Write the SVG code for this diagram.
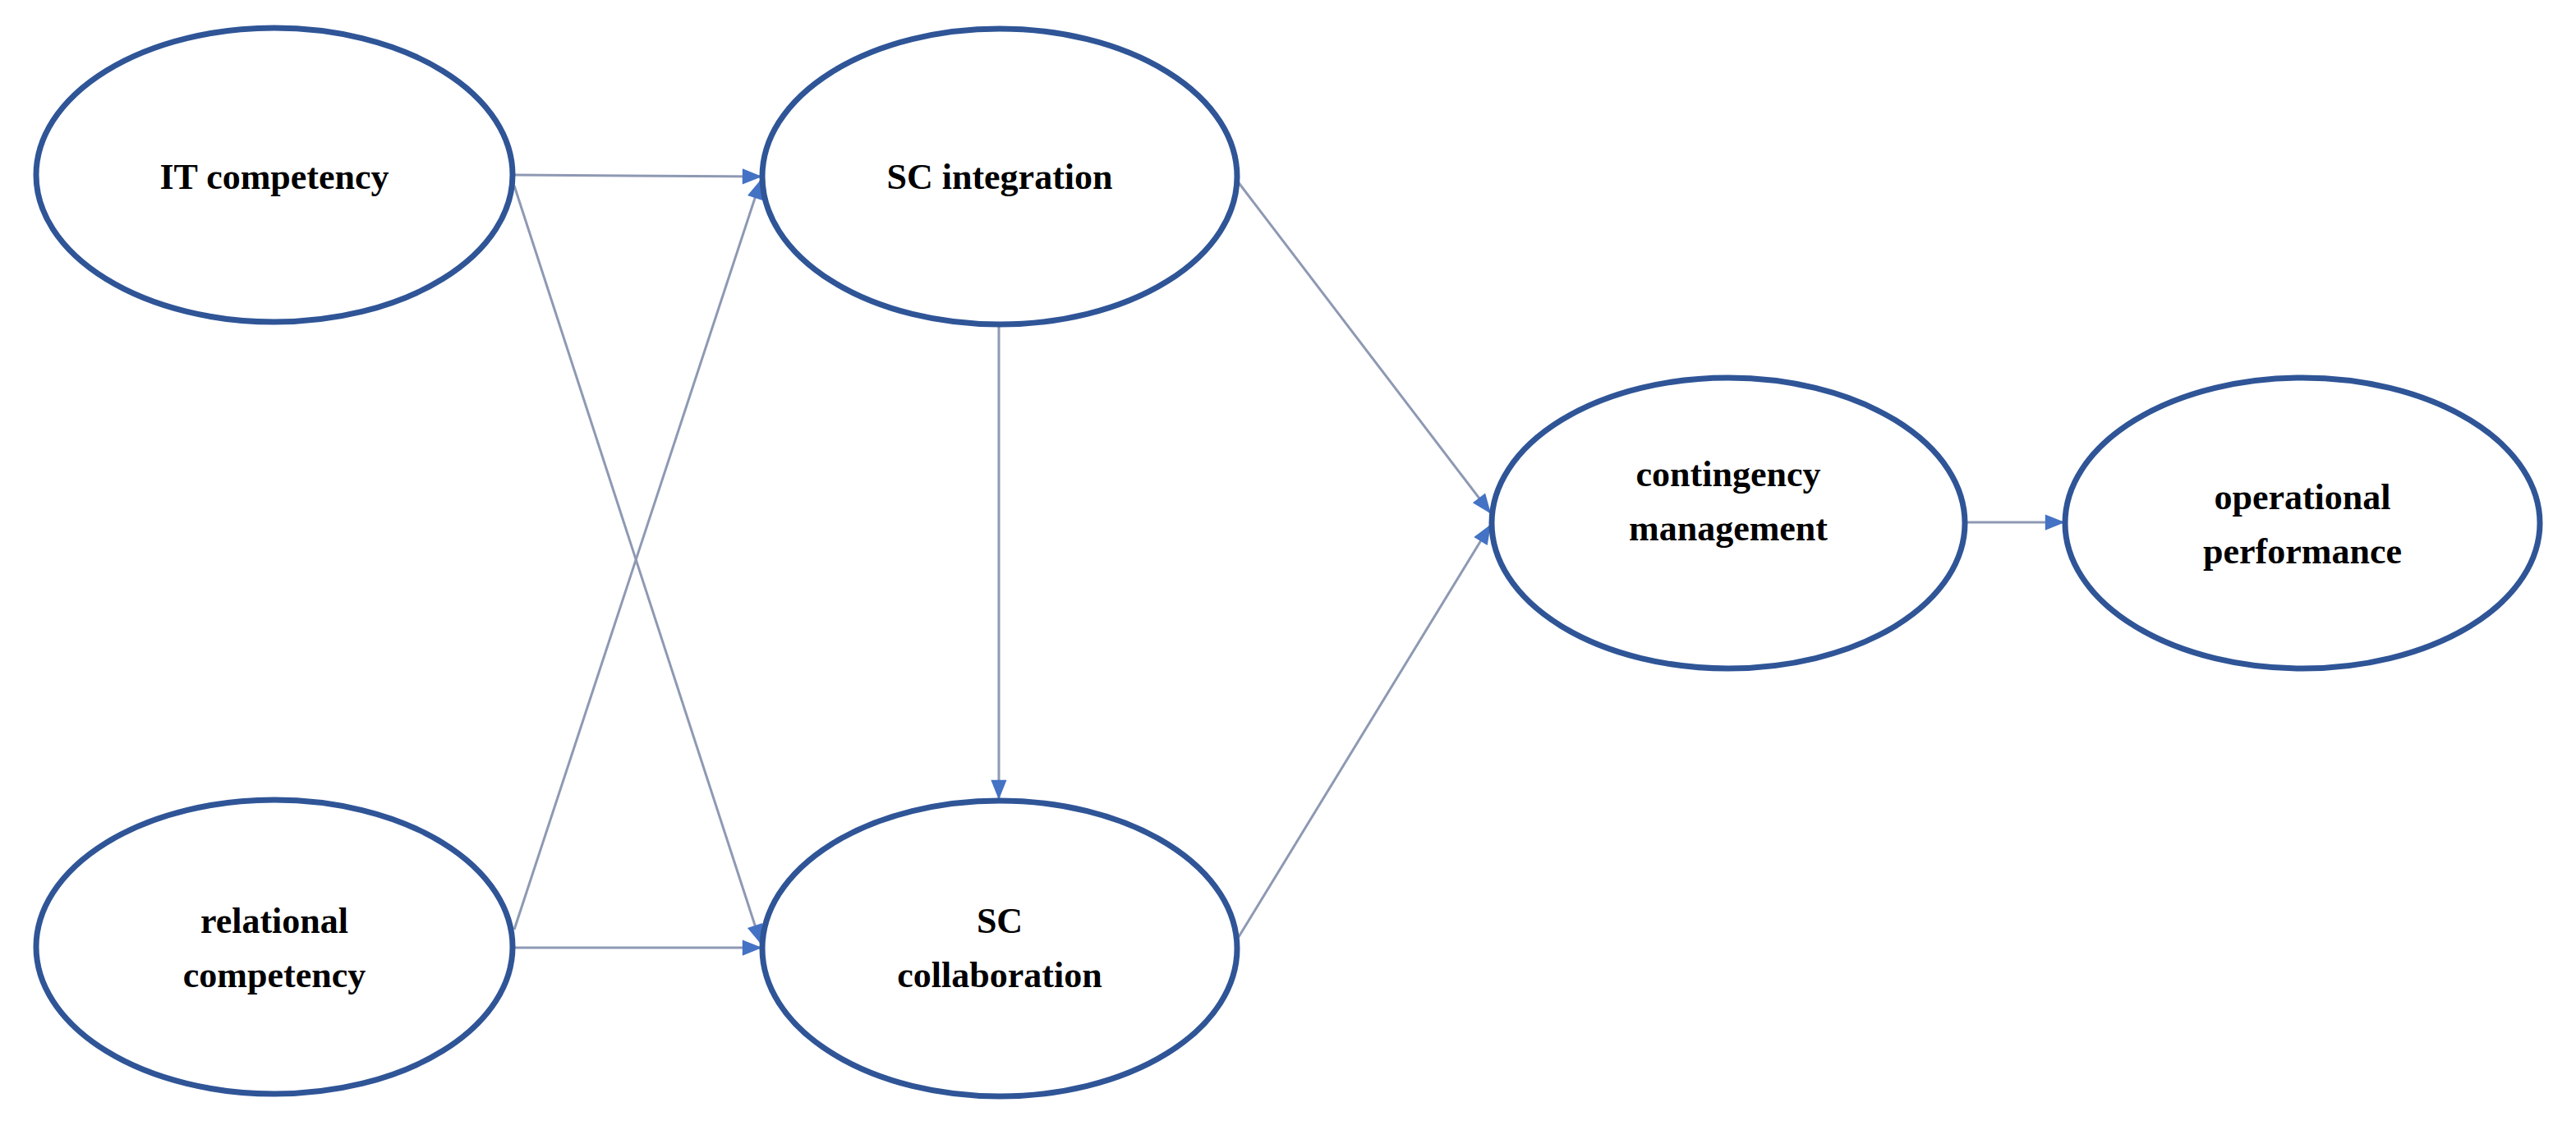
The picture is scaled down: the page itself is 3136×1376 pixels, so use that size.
<svg xmlns="http://www.w3.org/2000/svg" width="3136" height="1376" viewBox="0 0 3136 1376">
<style>
.n{fill:#fff;stroke:#2F5597;stroke-width:7}
.t{font-family:"Liberation Serif","Times New Roman",serif;font-weight:bold;font-size:44px;fill:#000;text-anchor:middle}
.c{stroke:#8E99B3;stroke-width:3;fill:none;marker-end:url(#a)}
</style>
<defs><marker id="a" markerWidth="10" markerHeight="8" refX="9" refY="4" orient="auto" markerUnits="userSpaceOnUse" viewBox="0 0 10 8" style="overflow:visible"><path d="M0,0 L10,4 L0,8 Z" fill="#4472C4" transform="scale(2.4)translate(-5.5,-2.3)"/></marker></defs>
<rect width="3136" height="1376" fill="#fff"/>
<g id="connectors">
<line class="c" x1="626" y1="213" x2="926" y2="215"/>
<line class="c" x1="626" y1="226" x2="926" y2="1148"/>
<line class="c" x1="626" y1="1132" x2="926" y2="220"/>
<line class="c" x1="626" y1="1154" x2="926" y2="1154"/>
<line class="c" x1="1216" y1="396" x2="1216" y2="972"/>
<line class="c" x1="1506" y1="220" x2="1814" y2="624"/>
<line class="c" x1="1506" y1="1144" x2="1814" y2="640"/>
<line class="c" x1="2394" y1="636" x2="2512" y2="636"/>
</g>
<g id="it"><ellipse class="n" cx="334" cy="213" rx="290" ry="179"/><text class="t" x="334" y="230">IT  competency</text></g>
<g id="sci"><ellipse class="n" cx="1217" cy="215" rx="289" ry="180"/><text class="t" x="1217" y="230">SC integration</text></g>
<g id="rel"><ellipse class="n" cx="334" cy="1153" rx="290" ry="179"/><text class="t" x="334" y="1136">relational</text><text class="t" x="334" y="1202">competency</text></g>
<g id="scc"><ellipse class="n" cx="1217" cy="1155" rx="289" ry="180"/><text class="t" x="1217" y="1136">SC</text><text class="t" x="1217" y="1202">collaboration</text></g>
<g id="cont"><ellipse class="n" cx="2104" cy="637" rx="288" ry="177"/><text class="t" x="2104" y="592">contingency</text><text class="t" x="2104" y="658">management</text></g>
<g id="op"><ellipse class="n" cx="2803" cy="637" rx="289" ry="177"/><text class="t" x="2803" y="620">operational</text><text class="t" x="2803" y="686">performance</text></g>
</svg>
